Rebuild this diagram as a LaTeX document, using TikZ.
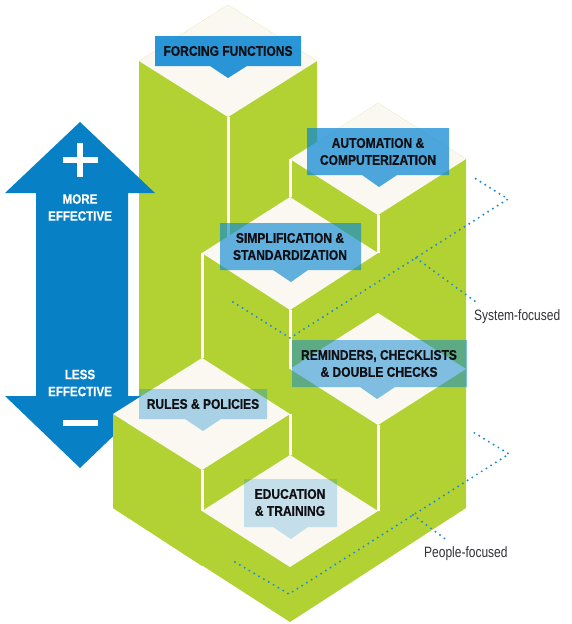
\documentclass[tikz,border=0pt]{standalone}
\usepackage{fontspec}
\setmainfont{Liberation Sans}
\newfontfamily\labfont[FakeStretch=0.86,FakeBold=0.6]{Liberation Sans Bold}
\newfontfamily\sidefont[FakeStretch=0.8]{Liberation Sans}
\definecolor{leaf}{RGB}{178,210,52}
\definecolor{creamtop}{RGB}{250,248,241}
\definecolor{arrowblue}{RGB}{8,128,198}
\definecolor{boxblue}{RGB}{10,135,211}
\definecolor{dotblue}{RGB}{30,140,210}
\definecolor{labink}{RGB}{15,15,20}
\definecolor{sideink}{RGB}{50,50,55}
\begin{document}
\begin{tikzpicture}[x=1pt,y=-1pt,
  face/.style={fill=leaf},
  topface/.style={fill=creamtop},
  seam/.style={draw=white,line width=3pt},
  callout/.style={fill=boxblue,fill opacity=#1},
  labeltext/.style={font=\labfont\fontsize{14}{17}\selectfont,text=labink,align=center,inner sep=0pt},
  arrowtext/.style={font=\labfont\fontsize{13.5}{17}\selectfont,text=white,align=center,inner sep=0pt},
  dotline/.style={draw=dotblue,line width=2.2pt,line cap=round,dash pattern=on 0pt off 5.6pt},
  sidetext/.style={font=\sidefont\fontsize{15}{18}\selectfont,text=sideink,inner sep=0pt}]
\useasboundingbox (0,0) rectangle (572,624);
\fill[white] (0,0) rectangle (572,624);

% green silhouette
\path[face] (228,5) -- (317,61) -- (317,142) -- (378,103) -- (466,159) -- (466,508)
  -- (290,622) -- (113,508) -- (113,414) -- (139,398) -- (139,61) -- cycle;

% top faces
\path[topface] (228,5) -- (317,61) -- (228,117) -- (139,61) -- cycle;     % forcing
\path[topface] (378,103) -- (466,159) -- (378,215) -- (290,159) -- cycle; % automation
\path[topface] (290,197) -- (378,253) -- (290,310) -- (202,253) -- cycle; % simplification
\path[topface] (378,313) -- (466,369) -- (378,425) -- (290,369) -- cycle; % reminders
\path[topface] (290,455) -- (378,511) -- (290,567) -- (202,511) -- cycle; % education

% seams
\draw[seam] (228,117) -- (228,237);
\draw[seam] (290,159) -- (290,197);
\draw[seam] (378,215) -- (378,253);
\draw[seam] (202,253) -- (202,358);
\draw[seam] (290,310) -- (290,369);
\draw[seam] (378,425) -- (378,511);
\draw[seam] (290,414) -- (290,455);

% effectiveness arrow
\fill[arrowblue] (80,122) -- (155,193) -- (128,193) -- (128,396) -- (155,396) -- (80,468)
  -- (5,396) -- (36,396) -- (36,193) -- (5,193) -- cycle;
\fill[white] (63,157) rectangle (98,163);
\fill[white] (77,143) rectangle (83,177);
\fill[white] (63,420) rectangle (98,426);
\node[arrowtext] (more) at (80,207.5) {MORE\\EFFECTIVE};
\node[arrowtext] (less) at (80,383) {LESS\\EFFECTIVE};

% rules block (in front of the arrow)
\path[face] (113,414) -- (202,470) -- (202,566) -- (113,508) -- cycle;
\path[topface] (202,358) -- (290,414) -- (202,470) -- (113,414) -- cycle;
\draw[seam] (202,470) -- (202,511);

% callouts
\path[callout=0.87] (155,36) -- (301,36) -- (301,66) -- (247,66) -- (228,78) -- (210,66) -- (155,66) -- cycle;
\path[callout=0.72] (307,128) -- (449,128) -- (449,175) -- (397,175) -- (379,187) -- (362,175) -- (307,175) -- cycle;
\path[callout=0.64] (220,223) -- (361,223) -- (361,270) -- (308,270) -- (291,282) -- (273,270) -- (220,270) -- cycle;
\path[callout=0.51] (292,340) -- (467,340) -- (467,387) -- (395,387) -- (377,399) -- (360,387) -- (292,387) -- cycle;
\path[callout=0.34] (139,389) -- (267,389) -- (267,419) -- (221,419) -- (203,431) -- (185,419) -- (139,419) -- cycle;
\path[callout=0.22] (244,479) -- (337,479) -- (337,527) -- (308,527) -- (291,539) -- (273,527) -- (244,527) -- cycle;

\node[labeltext] (forcing) at (228,51) {FORCING FUNCTIONS};
\node[labeltext] (automation) at (378,151.5) {AUTOMATION \&\\COMPUTERIZATION};
\node[labeltext] (simplification) at (290,246.5) {SIMPLIFICATION \&\\STANDARDIZATION};
\node[labeltext] (reminders) at (379,363.5) {REMINDERS, CHECKLISTS\\\& DOUBLE CHECKS};
\node[labeltext] (rules) at (203,404) {RULES \& POLICIES};
\node[labeltext] (education) at (290,502.5) {EDUCATION\\\& TRAINING};

% system-focused bracket
\coordinate (s1) at (233,302);
\coordinate (s2) at (290,338);
\coordinate (s3) at (508,199);
\coordinate (s4) at (473,177);
\coordinate (sb) at (416,258);
\coordinate (se) at (476,302);
\draw[dotline] (s1) -- (s2) -- (s3) -- (s4);
\draw[dotline] (sb) -- (se);
\node[sidetext,anchor=base west] (system) at (474,320) {System-focused};

% people-focused bracket
\coordinate (p1) at (235,562);
\coordinate (p2) at (289,594);
\coordinate (p3) at (509,454);
\coordinate (p4) at (473,432);
\coordinate (pb) at (413,515);
\coordinate (pe) at (448,541);
\draw[dotline] (p1) -- (p2) -- (p3) -- (p4);
\draw[dotline] (pb) -- (pe);
\node[sidetext,anchor=base west] (people) at (424,557) {People-focused};
\end{tikzpicture}
\end{document}
